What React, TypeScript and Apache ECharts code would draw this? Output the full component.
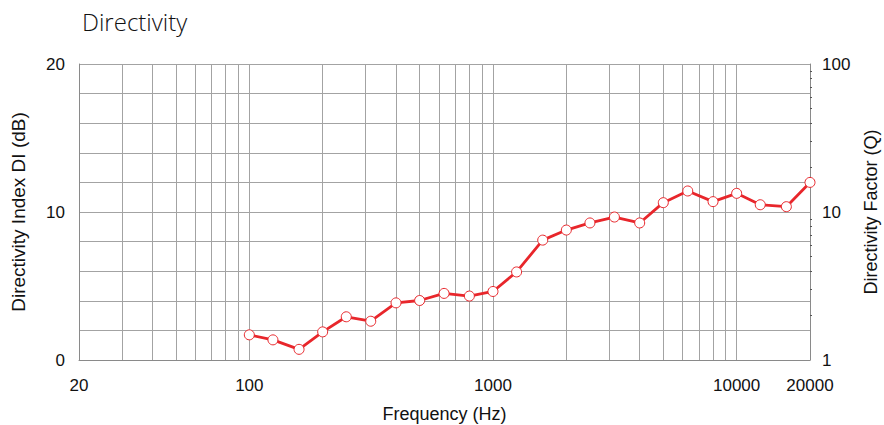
import React, { useEffect, useRef } from "react";
import * as echarts from "echarts";

const frequencies = [100, 125, 160, 200, 250, 315, 400, 500, 630, 800, 1000, 1250, 1600, 2000, 2500, 3150, 4000, 5000, 6300, 8000, 10000, 12500, 16000, 20000];
const diValues = [1.7, 1.36, 0.72, 1.9, 2.92, 2.62, 3.86, 4.02, 4.5, 4.32, 4.63, 5.95, 8.1, 8.78, 9.26, 9.66, 9.26, 10.63, 11.42, 10.7, 11.26, 10.49, 10.36, 12.0];
const xLabelValues = [20, 100, 1000, 10000, 20000];
const xGridValues = [30, 40, 50, 60, 70, 80, 90, 100, 200, 300, 400, 500, 600, 700, 800, 900, 1000, 2000, 3000, 4000, 5000, 6000, 7000, 8000, 9000, 10000];
const leftLabelValues = [0, 10, 20];
const rightLabelValues = [1, 10, 100];
const rightTickValues = [2, 3, 4, 5, 6, 7, 8, 9, 20, 30, 40, 50, 60, 70, 80, 90];

export default function App() {
  const ref = useRef<HTMLDivElement>(null);
  useEffect(() => {
    if (!ref.current) return;
    const chart = echarts.init(ref.current, null, { renderer: "svg" });
    const fam = "Liberation Sans, Arial, sans-serif";
    const labelFont = { fontFamily: fam, fontSize: 17, color: "#111" };
    chart.setOption({
      animation: false,
      backgroundColor: "#fff",
      title: {
        text: "Directivity",
        left: 77,
        top: 4,
        textStyle: { fontFamily: "Open Sans", fontWeight: 300, fontSize: 24, color: "#111" },
      },
      grid: { left: 79, right: 74, top: 64, bottom: 65, containLabel: false, outerBoundsMode: "none" },
      xAxis: {
        type: "log",
        logBase: 10,
        min: 20,
        max: 20000,
        name: "Frequency (Hz)",
        nameLocation: "middle",
        nameGap: 45,
        nameTextStyle: { fontFamily: fam, fontSize: 18, color: "#111" },
        axisLine: { show: true, lineStyle: { color: "#8a8a8a", width: 1 } },
        axisTick: { show: false, customValues: xGridValues },
        axisLabel: { customValues: xLabelValues, margin: 17, formatter: (v: number) => String(v), ...labelFont },
        splitLine: { show: true, lineStyle: { color: "#a3a3a3", width: 1 } },
        minorTick: { show: false },
      },
      yAxis: [
        {
          type: "value",
          min: 0,
          max: 20,
          interval: 2,
          position: "left",
          name: "Directivity Index DI (dB)",
          nameLocation: "middle",
          nameRotate: 90,
          nameGap: 51,
          nameTextStyle: { fontFamily: fam, fontSize: 19, color: "#111" },
          axisLine: { show: true, lineStyle: { color: "#8a8a8a", width: 1 } },
          axisTick: { show: false },
          axisLabel: { customValues: leftLabelValues, margin: 14, ...labelFont },
          splitLine: { show: true, lineStyle: { color: "#a3a3a3", width: 1 } },
        },
        {
          type: "log",
          logBase: 10,
          min: 1,
          max: 100,
          position: "right",
          name: "Directivity Factor (Q)",
          nameLocation: "middle",
          nameRotate: 90,
          nameGap: 52,
          nameTextStyle: { fontFamily: fam, fontSize: 18, color: "#111" },
          axisLine: { show: true, lineStyle: { color: "#8a8a8a", width: 1 } },
          axisTick: { show: true, customValues: rightTickValues, length: 2, lineStyle: { color: "#555" } },
          axisLabel: { customValues: rightLabelValues, margin: 12, formatter: (v: number) => String(v), ...labelFont },
          splitLine: { show: false },
        },
      ],
      series: [
        {
          type: "line",
          yAxisIndex: 0,
          data: frequencies.map((f, i) => [f, diValues[i]]),
          symbol: "circle",
          symbolSize: 10,
          lineStyle: { color: "#e8262b", width: 2.8 },
          itemStyle: { color: "#fff", borderColor: "#e8262b", borderWidth: 1 },
          z: 5,
        },
      ],
    });
    return () => chart.dispose();
  }, []);
  return <div ref={ref} style={{ position: "fixed", left: 0, top: 0, width: 884, height: 425 }} />;
}
